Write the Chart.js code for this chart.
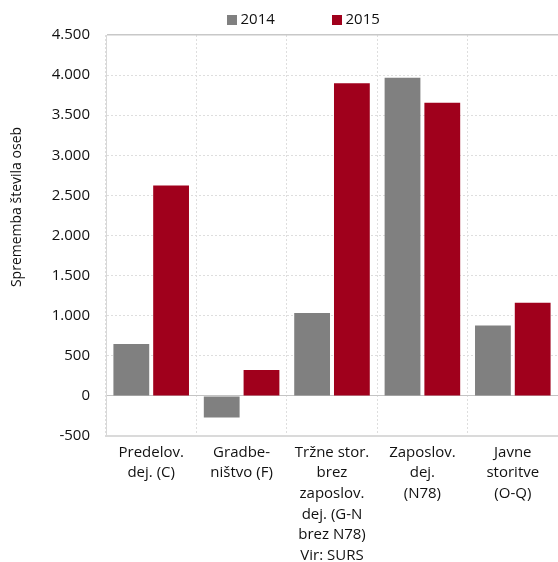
<!DOCTYPE html>
<html>
<head>
<meta charset="utf-8">
<script src="https://cdn.jsdelivr.net/npm/chart.js@4"></script>
<style>
  html, body { margin: 0; padding: 0; background: #fff; }
  #wrap { width: 558px; height: 562px; position: relative; }
</style>
</head>
<body>
<div id="wrap"><canvas id="myChart"></canvas></div>
<script>
// chart data
const categories = [
  ['Predelov.', 'dej. (C)'],
  ['Gradbe-', 'ništvo (F)'],
  ['Tržne stor.', 'brez', 'zaposlov.', 'dej. (G-N', 'brez N78)', 'Vir: SURS'],
  ['Zaposlov.', 'dej.', '(N78)'],
  ['Javne', 'storitve', '(O-Q)']
];
const seriesNames = ['2014', '2015'];
const values2014 = [648, -270, 1034, 3968, 879];
const values2015 = [2623, 324, 3898, 3656, 1162];
const yTitle = 'Sprememba števila oseb';

const GRAY = '#808080';
const RED = '#a0001c';
const FONT = '"Open Sans", sans-serif';
const TEXT = '#111111';

Chart.defaults.font.family = FONT;
Chart.defaults.color = TEXT;

// thousands with a dot, like 4.500
function fmt(v) {
  const s = Math.abs(v).toString().replace(/\B(?=(\d{3})+(?!\d))/g, '.');
  return (v < 0 ? '-' : '') + s;
}

// legend + rotated axis title, drawn by hand so they sit where the original has them
const extras = {
  id: 'extras',
  afterDraw(chart) {
    const c = chart.ctx;
    c.save();
    c.font = '15px ' + FONT;
    c.textBaseline = 'middle';
    c.textAlign = 'left';
    const items = [[GRAY, 227], [RED, 332]];
    items.forEach(([col, x], i) => {
      c.fillStyle = col;
      c.fillRect(x, 15, 10, 10);
      c.fillStyle = TEXT;
      c.fillText(seriesNames[i], x + 13.5, 20);
    });
    c.translate(17, 207);
    c.rotate(-Math.PI / 2);
    c.textAlign = 'center';
    c.font = '14px ' + FONT;
    c.fillText(yTitle, 0, 0);
    c.restore();
  }
};

const ctx = document.getElementById('myChart').getContext('2d');
const myChart = new Chart(ctx, {
  type: 'bar',
  data: {
    labels: categories,
    datasets: [{
      label: seriesNames[0],
      data: values2014,
      backgroundColor: GRAY,
      borderWidth: 0
    }, {
      label: seriesNames[1],
      data: values2015,
      backgroundColor: RED,
      borderWidth: 0
    }]
  },
  options: {
    responsive: true,
    maintainAspectRatio: false,
    animation: false,
    categoryPercentage: 0.88,
    barPercentage: 0.9,
    layout: { padding: { top: 35, left: 0, right: -2, bottom: 0 } },
    plugins: {
      legend: { display: false },
      tooltip: { enabled: false }
    },
    scales: {
      x: {
        grid: {
          color: '#dedede',
          drawTicks: false
        },
        border: { color: '#dadada', width: 2, dash: [2, 2] },
        ticks: {
          padding: 6,
          maxRotation: 0,
          autoSkip: false,
          font: { size: 15, lineHeight: 1.38 }
        },
        afterFit(scale) { scale.height = 126; }
      },
      y: {
        min: -500,
        max: 4500,
        grid: {
          color: ctx => {
            if (!ctx.tick) return '#dedede';
            if (ctx.tick.value === 0) return '#c4c4c4';
            if (ctx.tick.value === 4500) return '#c8c8c8';
            return '#dedede';
          },
          lineWidth: ctx => (ctx.tick && ctx.tick.value === 4500) ? 1.5 : 1,
          drawTicks: false
        },
        border: {
          color: '#d8d8d8',
          width: 1,
          dash: ctx => (ctx.tick && (ctx.tick.value === 0 || ctx.tick.value === 4500)) ? [] : [2, 2]
        },
        ticks: {
          stepSize: 500,
          padding: 16,
          font: { size: 15 },
          callback: v => fmt(v)
        },
        afterFit(scale) { scale.width = 106; }
      }
    }
  },
  plugins: [extras]
});
</script>
</body>
</html>
